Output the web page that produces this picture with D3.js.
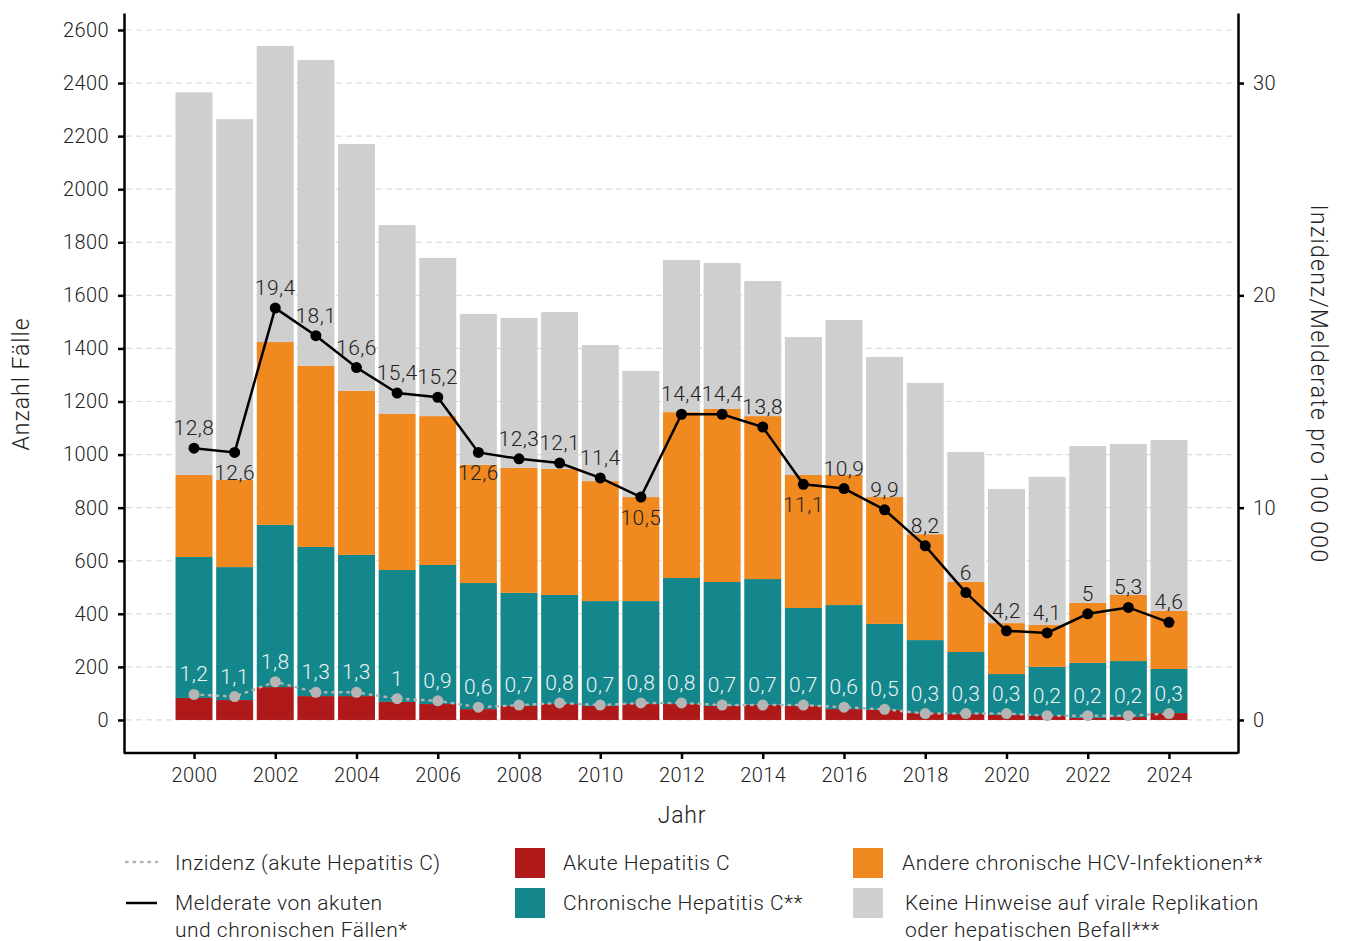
<!DOCTYPE html>
<html>
<head>
<meta charset="utf-8">
<script src="https://cdn.jsdelivr.net/npm/d3@7"></script>
<style>
  body { margin: 0; background: #fff; }
  svg { font-family: Roboto, "Noto Sans", sans-serif; font-weight: 300; }
</style>
</head>
<body>
<div id="chart"></div>
<script>
// Data
const years = d3.range(2000, 2025);
const acute = [83, 75, 124, 90, 90, 68, 60, 41, 53, 60, 53, 60, 60, 53, 57, 53, 41, 38, 26, 23, 19, 15, 8, 11, 26];
const chronic = [531, 501, 611, 562, 532, 497, 524, 475, 426, 411, 395, 388, 475, 467, 474, 369, 392, 324, 275, 233, 154, 185, 207, 211, 166];
const otherChronic = [309, 329, 689, 682, 618, 588, 561, 445, 471, 475, 452, 392, 625, 652, 614, 501, 490, 478, 399, 264, 192, 158, 226, 249, 219];
const noReplication = [1442, 1359, 1116, 1153, 930, 712, 596, 569, 565, 591, 513, 475, 573, 550, 509, 520, 584, 528, 570, 490, 505, 558, 591, 569, 644];
const melderate = [12.8, 12.6, 19.4, 18.1, 16.6, 15.4, 15.2, 12.6, 12.3, 12.1, 11.4, 10.5, 14.4, 14.4, 13.8, 11.1, 10.9, 9.9, 8.2, 6, 4.2, 4.1, 5, 5.3, 4.6];
const inzidenz = [1.2, 1.1, 1.8, 1.3, 1.3, 1, 0.9, 0.6, 0.7, 0.8, 0.7, 0.8, 0.8, 0.7, 0.7, 0.7, 0.6, 0.5, 0.3, 0.3, 0.3, 0.2, 0.2, 0.2, 0.3];
const labelBelow = [2001, 2007, 2011, 2015];
const yTicks = d3.range(0, 2601, 200);
const y2Ticks = [0, 10, 20, 30];
const xTicks = d3.range(2000, 2025, 2);

const seriesKeys = ['acute', 'chronic', 'otherChronic', 'noReplication'];
const colors = {
  acute: '#b0191a',
  chronic: '#14878c',
  otherChronic: '#f0891f',
  noReplication: '#cfcfcf'
};

const table = years.map((yr, i) => ({
  year: yr,
  acute: acute[i],
  chronic: chronic[i],
  otherChronic: otherChronic[i],
  noReplication: noReplication[i],
  melderate: melderate[i],
  inzidenz: inzidenz[i]
}));

const W = 1348, H = 941;
const svg = d3.select('#chart').append('svg').attr('width', W).attr('height', H);

// Panel geometry
const pLeft = 124, pRight = 1238, pTop = 13, pBottom = 753;

const x = d3.scaleBand().domain(years).range([173.7, 1189.3]).paddingInner(0.09).paddingOuter(0.045);
const y = d3.scaleLinear().domain([-124.5, 2664]).range([pBottom, pTop]);
// right axis: 10 per 100 000 == 800 cases
const y2 = d3.scaleLinear().domain([-124.5 / 80, 2664 / 80]).range([pBottom, pTop]);

// Grid
svg.append('g')
  .selectAll('line')
  .data(yTicks)
  .join('line')
  .attr('x1', pLeft + 2)
  .attr('x2', pRight - 2)
  .attr('y1', d => y(d))
  .attr('y2', d => y(d))
  .attr('stroke', '#dcdcdc')
  .attr('stroke-width', 1.2)
  .attr('stroke-dasharray', '6,4');

// Stacked bars
const stack = d3.stack().keys(seriesKeys)(table);
svg.append('g')
  .selectAll('g')
  .data(stack)
  .join('g')
  .attr('fill', d => colors[d.key])
  .selectAll('rect')
  .data(d => d)
  .join('rect')
  .attr('x', d => x(d.data.year))
  .attr('width', x.bandwidth())
  .attr('y', d => y(d[1]))
  .attr('height', d => y(d[0]) - y(d[1]));

// Inzidenz (acute) dotted line + points
const inzLine = d3.line().x(d => x(d.year) + x.bandwidth() / 2).y(d => y2(d.inzidenz));
svg.append('path')
  .datum(table)
  .attr('d', inzLine)
  .attr('fill', 'none')
  .attr('stroke', '#b3b3b3')
  .attr('stroke-width', 2.5)
  .attr('stroke-dasharray', '1.5,6')
  .attr('stroke-linecap', 'round');

svg.append('g')
  .selectAll('circle')
  .data(table)
  .join('circle')
  .attr('cx', d => x(d.year) + x.bandwidth() / 2)
  .attr('cy', d => y2(d.inzidenz))
  .attr('r', 5.5)
  .attr('fill', '#b5b5b5');

const fmt = v => String(v).replace('.', ',');

svg.append('g')
  .selectAll('text')
  .data(table)
  .join('text')
  .attr('x', d => x(d.year) + x.bandwidth() / 2)
  .attr('y', d => y2(d.inzidenz) - 13)
  .attr('text-anchor', 'middle')
  .attr('font-size', 21)
  .attr('letter-spacing', 0.5)
  .attr('fill', '#eef4f4')
  .text(d => fmt(d.inzidenz));

// Melderate line + points
const mLine = d3.line().x(d => x(d.year) + x.bandwidth() / 2).y(d => y2(d.melderate));
svg.append('path')
  .datum(table)
  .attr('d', mLine)
  .attr('fill', 'none')
  .attr('stroke', '#000')
  .attr('stroke-width', 2.5);

svg.append('g')
  .selectAll('circle')
  .data(table)
  .join('circle')
  .attr('cx', d => x(d.year) + x.bandwidth() / 2)
  .attr('cy', d => y2(d.melderate))
  .attr('r', 5.5)
  .attr('fill', '#000');

svg.append('g')
  .selectAll('text')
  .data(table)
  .join('text')
  .attr('x', d => x(d.year) + x.bandwidth() / 2)
  .attr('y', d => labelBelow.includes(d.year) ? y2(d.melderate) + 28 : y2(d.melderate) - 13)
  .attr('text-anchor', 'middle')
  .attr('font-size', 21)
  .attr('letter-spacing', 0.5)
  .attr('fill', '#222')
  .text(d => fmt(d.melderate));

// Axes
const axisStyle = g => {
  g.select('.domain').attr('stroke', '#000').attr('stroke-width', 2.5);
  g.selectAll('.tick line').attr('stroke', '#000').attr('stroke-width', 2.5);
  g.selectAll('.tick text').attr('font-size', 20).attr('fill', '#222')
    .attr('font-family', 'Roboto, sans-serif').attr('font-weight', 300)
    .attr('letter-spacing', 0.4);
};

const yAxis = svg.append('g')
  .attr('transform', `translate(${pLeft},0)`)
  .call(d3.axisLeft(y).tickValues(yTicks).tickFormat(d3.format('d')).tickSize(6).tickPadding(9).tickSizeOuter(0));
axisStyle(yAxis);

const y2Axis = svg.append('g')
  .attr('transform', `translate(${pRight},0)`)
  .call(d3.axisRight(y2).tickValues(y2Ticks).tickFormat(d3.format('d')).tickSize(6).tickPadding(9).tickSizeOuter(0));
axisStyle(y2Axis);

const xAxisScale = d3.scaleLinear().domain([2000, 2024])
  .range([x(2000) + x.bandwidth() / 2, x(2024) + x.bandwidth() / 2]);
const xAxis = svg.append('g')
  .attr('transform', `translate(0,${pBottom})`)
  .call(d3.axisBottom(xAxisScale).tickValues(xTicks).tickFormat(d3.format('d')).tickSize(6).tickPadding(9).tickSizeOuter(0));
axisStyle(xAxis);
xAxis.select('.domain').attr('d', `M${pLeft},0H${pRight}`);

// Axis titles
svg.append('text')
  .attr('transform', `translate(29,384) rotate(-90)`)
  .attr('text-anchor', 'middle')
  .attr('font-size', 23)
  .attr('letter-spacing', 1)
  .attr('fill', '#222')
  .text('Anzahl Fälle');

svg.append('text')
  .attr('transform', `translate(1311,384) rotate(90)`)
  .attr('text-anchor', 'middle')
  .attr('font-size', 23)
  .attr('letter-spacing', 1.3)
  .attr('fill', '#222')
  .text('Inzidenz/Melderate pro 100 000');

svg.append('text')
  .attr('x', 682)
  .attr('y', 823)
  .attr('text-anchor', 'middle')
  .attr('font-size', 23)
  .attr('letter-spacing', 0.8)
  .attr('fill', '#222')
  .text('Jahr');

// Legend
const legend = svg.append('g').attr('font-size', 21).attr('letter-spacing', 0.5).attr('fill', '#222');

legend.append('line')
  .attr('x1', 126).attr('x2', 157).attr('y1', 862).attr('y2', 862)
  .attr('stroke', '#b3b3b3').attr('stroke-width', 2.5)
  .attr('stroke-dasharray', '1.5,6').attr('stroke-linecap', 'round');
legend.append('text').attr('x', 175).attr('y', 870).text('Inzidenz (akute Hepatitis C)');

legend.append('line')
  .attr('x1', 126).attr('x2', 157).attr('y1', 903).attr('y2', 903)
  .attr('stroke', '#000').attr('stroke-width', 2.5);
legend.append('text').attr('x', 175).attr('y', 910).text('Melderate von akuten');
legend.append('text').attr('x', 175).attr('y', 937).text('und chronischen Fällen*');

const swatches = [
  { key: 'acute', x: 515, y: 848, label: ['Akute Hepatitis C'], tx: 563 },
  { key: 'chronic', x: 515, y: 888, label: ['Chronische Hepatitis C**'], tx: 563 },
  { key: 'otherChronic', x: 853, y: 848, label: ['Andere chronische HCV-Infektionen**'], tx: 902 },
  { key: 'noReplication', x: 853, y: 888, label: ['Keine Hinweise auf virale Replikation', 'oder hepatischen Befall***'], tx: 905 }
];
swatches.forEach(s => {
  legend.append('rect').attr('x', s.x).attr('y', s.y).attr('width', 30).attr('height', 30).attr('fill', colors[s.key]);
  s.label.forEach((t, i) => {
    legend.append('text').attr('x', s.tx).attr('y', s.y + 22 + i * 27).text(t);
  });
});
</script>
</body>
</html>
